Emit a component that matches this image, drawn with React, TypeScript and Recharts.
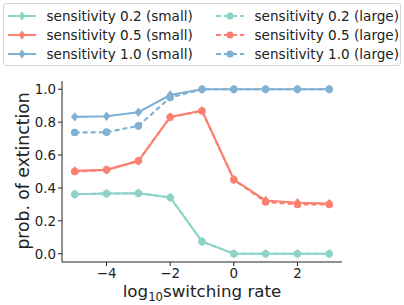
import * as React from "react";
import { LineChart, Line, XAxis, YAxis } from "recharts";

const xValues = [-5, -4, -3, -2, -1, 0, 1, 2, 3];
const sens02Small = [0.362, 0.366, 0.368, 0.342, 0.075, 0.0, 0.0, 0.0, 0.0];
const sens05Small = [0.504, 0.51, 0.563, 0.832, 0.87, 0.451, 0.324, 0.31, 0.305];
const sens10Small = [0.832, 0.836, 0.86, 0.965, 1.0, 1.0, 1.0, 1.0, 1.0];
const sens02Large = [0.362, 0.366, 0.368, 0.342, 0.075, 0.0, 0.0, 0.0, 0.0];
const sens05Large = [0.5, 0.51, 0.565, 0.83, 0.868, 0.45, 0.315, 0.3, 0.3];
const sens10Large = [0.737, 0.739, 0.777, 0.949, 1.0, 1.0, 1.0, 1.0, 1.0];

const xTicks = [-4, -2, 0, 2];
const yTicks = [0, 0.2, 0.4, 0.6, 0.8, 1.0];

const TEAL = "#8dd3c7";
const RED = "#fb8072";
const BLUE = "#80b1d3";
const FONT = "'DejaVu Sans', sans-serif";

const data = xValues.map((x, i) => ({
  x,
  s02: sens02Small[i],
  s05: sens05Small[i],
  s10: sens10Small[i],
  l02: sens02Large[i],
  l05: sens05Large[i],
  l10: sens10Large[i],
}));

const series = [
  { key: "s02", name: "sensitivity 0.2 (small)", color: TEAL, dashed: false },
  { key: "s05", name: "sensitivity 0.5 (small)", color: RED, dashed: false },
  { key: "s10", name: "sensitivity 1.0 (small)", color: BLUE, dashed: false },
  { key: "l02", name: "sensitivity 0.2 (large)", color: TEAL, dashed: true },
  { key: "l05", name: "sensitivity 0.5 (large)", color: RED, dashed: true },
  { key: "l10", name: "sensitivity 1.0 (large)", color: BLUE, dashed: true },
];

const minus = (s: string) => s.replace("-", "\u2212");

// eslint-disable-next-line @typescript-eslint/no-explicit-any
const makeDot = (color: string, circle: boolean) => (p: any) => {
  const { cx, cy, index } = p;
  if (cx == null || cy == null) return <g key={index} />;
  if (circle) return <circle key={index} cx={cx} cy={cy} r={3.8} fill={color} />;
  const r = 4.7;
  return (
    <path
      key={index}
      d={`M${cx},${cy - r}L${cx + r * 0.8},${cy}L${cx},${cy + r}L${cx - r * 0.8},${cy}Z`}
      fill={color}
    />
  );
};

const LegendMark = ({ color, dashed }: { color: string; dashed: boolean }) => (
  <svg width={30} height={10} style={{ display: "block", flexShrink: 0 }}>
    <line x1={1} y1={5} x2={29} y2={5} stroke={color} strokeWidth={2} strokeDasharray={dashed ? "5 3" : undefined} />
    {dashed ? (
      <circle cx={15} cy={5} r={3.6} fill={color} />
    ) : (
      <path d="M15,0.6L18.5,5L15,9.4L11.5,5Z" fill={color} />
    )}
  </svg>
);

export default function App() {
  const cols = [series.slice(0, 3), series.slice(3)];
  return (
    <div style={{ position: "fixed", left: 0, top: 0, width: 404, height: 305, background: "#fff" }}>
      <LineChart width={404} height={305} data={data} margin={{ top: 81, right: 62, bottom: 0, left: 0 }}>
        <XAxis
          dataKey="x"
          type="number"
          domain={[-5.4, 3.4]}
          ticks={xTicks}
          allowDataOverflow
          height={43}
          stroke="#222"
          tick={{ fill: "#222", fontSize: 13.4, fontFamily: FONT }}
          tickSize={4}
          tickFormatter={(v: number) => minus(String(v))}
          label={{
            content: () => (
              <text x={202} y={297} textAnchor="middle" fontSize={16.7} fontFamily={FONT} fill="#222">
                log
                <tspan fontSize={11.7} dy={4}>10</tspan>
                <tspan dy={-4}>switching rate</tspan>
              </text>
            ),
          }}
        />
        <XAxis xAxisId="top" orientation="top" dataKey="x" type="number" domain={[-5.4, 3.4]} tick={false} tickLine={false} height={0} stroke="#222" />
        <YAxis
          type="number"
          domain={[-0.05, 1.05]}
          ticks={yTicks}
          allowDataOverflow
          width={62}
          stroke="#222"
          tickSize={4}
          tick={{ fill: "#222", fontSize: 13.4, fontFamily: FONT }}
          tickFormatter={(v: number) => v.toFixed(1)}
          label={{
            content: () => (
              <text
                x={23}
                y={171}
                textAnchor="middle"
                dominantBaseline="central"
                fontSize={17.2}
                fontFamily={FONT}
                fill="#222"
                transform="rotate(-90 23 171)"
              >
                prob. of extinction
              </text>
            ),
          }}
        />
        <YAxis yAxisId="right" orientation="right" domain={[-0.05, 1.05]} tick={false} tickLine={false} width={0} stroke="#222" />
        {series.map((s) => (
          <Line
            key={s.key}
            dataKey={s.key}
            stroke={s.color}
            strokeWidth={2.1}
            strokeDasharray={s.dashed ? "5 3" : undefined}
            dot={makeDot(s.color, s.dashed)}
            activeDot={false}
            isAnimationActive={false}
          />
        ))}
      </LineChart>
      <div
        style={{
          position: "absolute",
          left: 3,
          top: 3,
          width: 396,
          height: 61,
          border: "1px solid #d4d4d4",
          borderRadius: 3,
          background: "rgba(255,255,255,0.85)",
          fontFamily: FONT,
          fontSize: 13.6,
          color: "#222",
        }}
      >
        {cols.map((col, ci) =>
          col.map((s, ri) => (
            <div
              key={s.key}
              style={{
                position: "absolute",
                top: 3.5 + ri * 19.2,
                left: ci === 0 ? 3 : 211,
                width: 185,
                display: "flex",
                alignItems: "center",
                height: 16,
                whiteSpace: "nowrap",
              }}
            >
              <LegendMark color={s.color} dashed={s.dashed} />
              <span style={{ marginLeft: 9.5 }}>{s.name}</span>
            </div>
          ))
        )}
      </div>
    </div>
  );
}
